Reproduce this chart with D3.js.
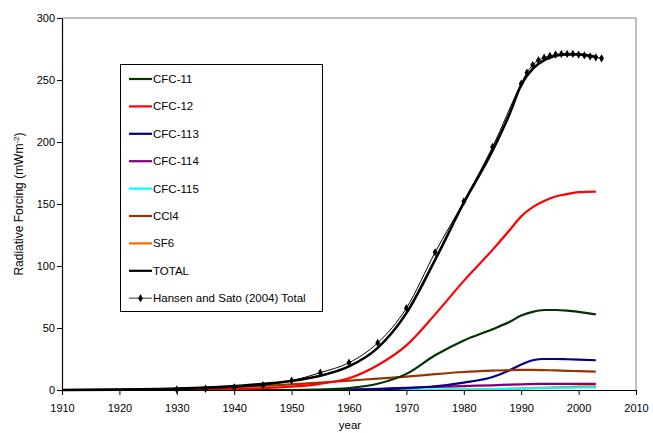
<!DOCTYPE html>
<html><head><meta charset="utf-8">
<script src="https://cdn.jsdelivr.net/npm/d3@7/dist/d3.min.js"></script>
<style>body{margin:0;background:#fff;} text{font-family:"Liberation Sans",Arial,sans-serif;}</style>
</head><body><svg id="c" width="653" height="433"></svg>
<script>
const years = [1910,1920,1930,1935,1940,1945,1950,1955,1960,1965,1970,1975,1980,1985,1988,1990,1992,1994,1996,1998,2000,2003];
const cfc11  = [0,0,0,0,0,0,0,0.3,1.5,5,13,28,40,49,55,60,63,64.5,64.5,64,63,61];
const cfc12  = [0,0,0.1,0.3,0.8,1.5,2.7,5,9.5,20,36,61,88,113,129,140,147.5,152.5,156,158,159.5,160];
const cfc113 = [0,0,0,0,0,0,0,0,0.2,0.5,1.5,3,6,10.5,16,20.5,24,25,25,24.8,24.5,24];
const cfc114 = [0,0,0,0,0,0,0,0.2,0.5,1,1.8,2.5,3.2,3.8,4.3,4.6,4.8,5,5,5,5,5];
const cfc115 = [0,0,0,0,0,0,0,0,0,0,0,0.1,0.3,0.6,0.9,1.1,1.3,1.5,1.7,1.9,2,2.1];
const ccl4   = [0,0.3,1,1.6,2.4,3.4,4.6,6,7.5,9.2,10.8,12.8,14.5,15.6,16.1,16.2,16.2,16,15.8,15.5,15.2,14.8];
const sf6    = [0,0,0,0,0,0,0,0,0,0,0,0.2,0.4,0.7,1,1.2,1.5,1.8,2.1,2.4,2.7,3];
const total  = [0,0.3,1.1,1.9,3.2,4.9,7.3,11.5,19,34,62,105,151,193,223,246,259,266,269.5,270.7,270.7,268.5];
const hansenYears = [1930,1935,1940,1945,1950,1955,1960,1965,1970,1975,1980,1985,1990,1991,1992,1993,1994,1995,1996,1997,1998,1999,2000,2001,2002,2003,2004];
const hansenVals  = [0.5,1,2,4,7.5,14,22,38,66,111,152,196,247,256,262,266,268,269.5,270.5,271,271,271,270.5,269.8,269,268.3,267.5];
const seriesNames = ["CFC-11","CFC-12","CFC-113","CFC-114","CFC-115","CCl4","SF6","TOTAL"];
const seriesColors = ["#003300","#ff0000","#000080","#800080","#00ffff","#993300","#ff6600","#000000"];
const xTicks = [1910,1920,1930,1940,1950,1960,1970,1980,1990,2000,2010];
const yTicks = [0,50,100,150,200,250,300];

const seriesVals = [cfc11,cfc12,cfc113,cfc114,cfc115,ccl4,sf6,total];
const svg = d3.select("#c");
const L=62,R=636,T=18,B=390;
const x = d3.scaleLinear().domain([1910,2010]).range([L,R]);
const y = d3.scaleLinear().domain([0,300]).range([B,T]);

// frame
svg.append("path").attr("d",`M${L},${T}H${R}V${B}`).attr("fill","none").attr("stroke","#808080").attr("stroke-width",1);

const line = d3.line().x(d=>x(d[0])).y(d=>y(d[1])).curve(d3.curveMonotoneX);
const order=[6,4,3,2,5,0,1,7];
order.forEach(i=>{
  const pts = years.map((yr,j)=>[yr,seriesVals[i][j]]);
  svg.append("path").attr("d",line(pts)).attr("fill","none")
    .attr("stroke",seriesColors[i]).attr("stroke-width",i===7?2.6:2.2).attr("stroke-linejoin","round");
});
const hp = hansenYears.map((yr,j)=>[yr,hansenVals[j]]);
svg.append("path").attr("d",line(hp)).attr("fill","none").attr("stroke","#000").attr("stroke-width",1);
const diamond = d3.symbol().type(d3.symbolDiamond).size(20);
svg.append("g").selectAll("path").data(hp).join("path")
  .attr("d",diamond).attr("transform",d=>`translate(${x(d[0])},${y(d[1])})`).attr("fill","#000");

// axes
const xa = svg.append("g").attr("transform",`translate(0,${B})`)
  .call(d3.axisBottom(x).tickValues(xTicks).tickFormat(d3.format("d")).tickSize(5).tickSizeOuter(0));
const ya = svg.append("g").attr("transform",`translate(${L},0)`)
  .call(d3.axisLeft(y).tickValues(yTicks).tickSize(5).tickSizeOuter(0));
[xa,ya].forEach(a=>{a.select(".domain").attr("stroke","#000").attr("stroke-width",1.2);
  a.selectAll("line").attr("stroke","#000");
  a.selectAll("text").attr("font-size",11).attr("fill","#000").attr("font-family","Liberation Sans, Arial, sans-serif");});
xa.selectAll("text").attr("dy","1.25em");
ya.selectAll("text").attr("x",-7);

svg.append("text").attr("x",350).attr("y",429).attr("text-anchor","middle").attr("font-size",11.5).text("year");
const yl = svg.append("text").attr("transform","translate(23,204) rotate(-90)").attr("text-anchor","middle").attr("font-size",12);
yl.append("tspan").text("Radiative Forcing (mWm");
yl.append("tspan").attr("dy",-4).attr("font-size",8).text("-2");
yl.append("tspan").attr("dy",4).text(")");

// legend
const lg = svg.append("g");
lg.append("rect").attr("x",120.5).attr("y",64.5).attr("width",202).attr("height",247).attr("fill","#fff").attr("stroke","#000");
const names = seriesNames.concat(["Hansen and Sato (2004) Total"]);
names.forEach((n,i)=>{
  const yy = 79 + i*27.4;
  const col = i<8?seriesColors[i]:"#000";
  lg.append("line").attr("x1",129).attr("x2",152).attr("y1",yy).attr("y2",yy).attr("stroke",i<8?col:"#555").attr("stroke-width",i<8?2.2:1.2);
  if(i===8) lg.append("path").attr("d",diamond).attr("transform",`translate(140.5,${yy})`).attr("fill","#000");
  lg.append("text").attr("x",153).attr("y",yy+4).attr("font-size",11.5).text(n);
});
</script></body></html>
